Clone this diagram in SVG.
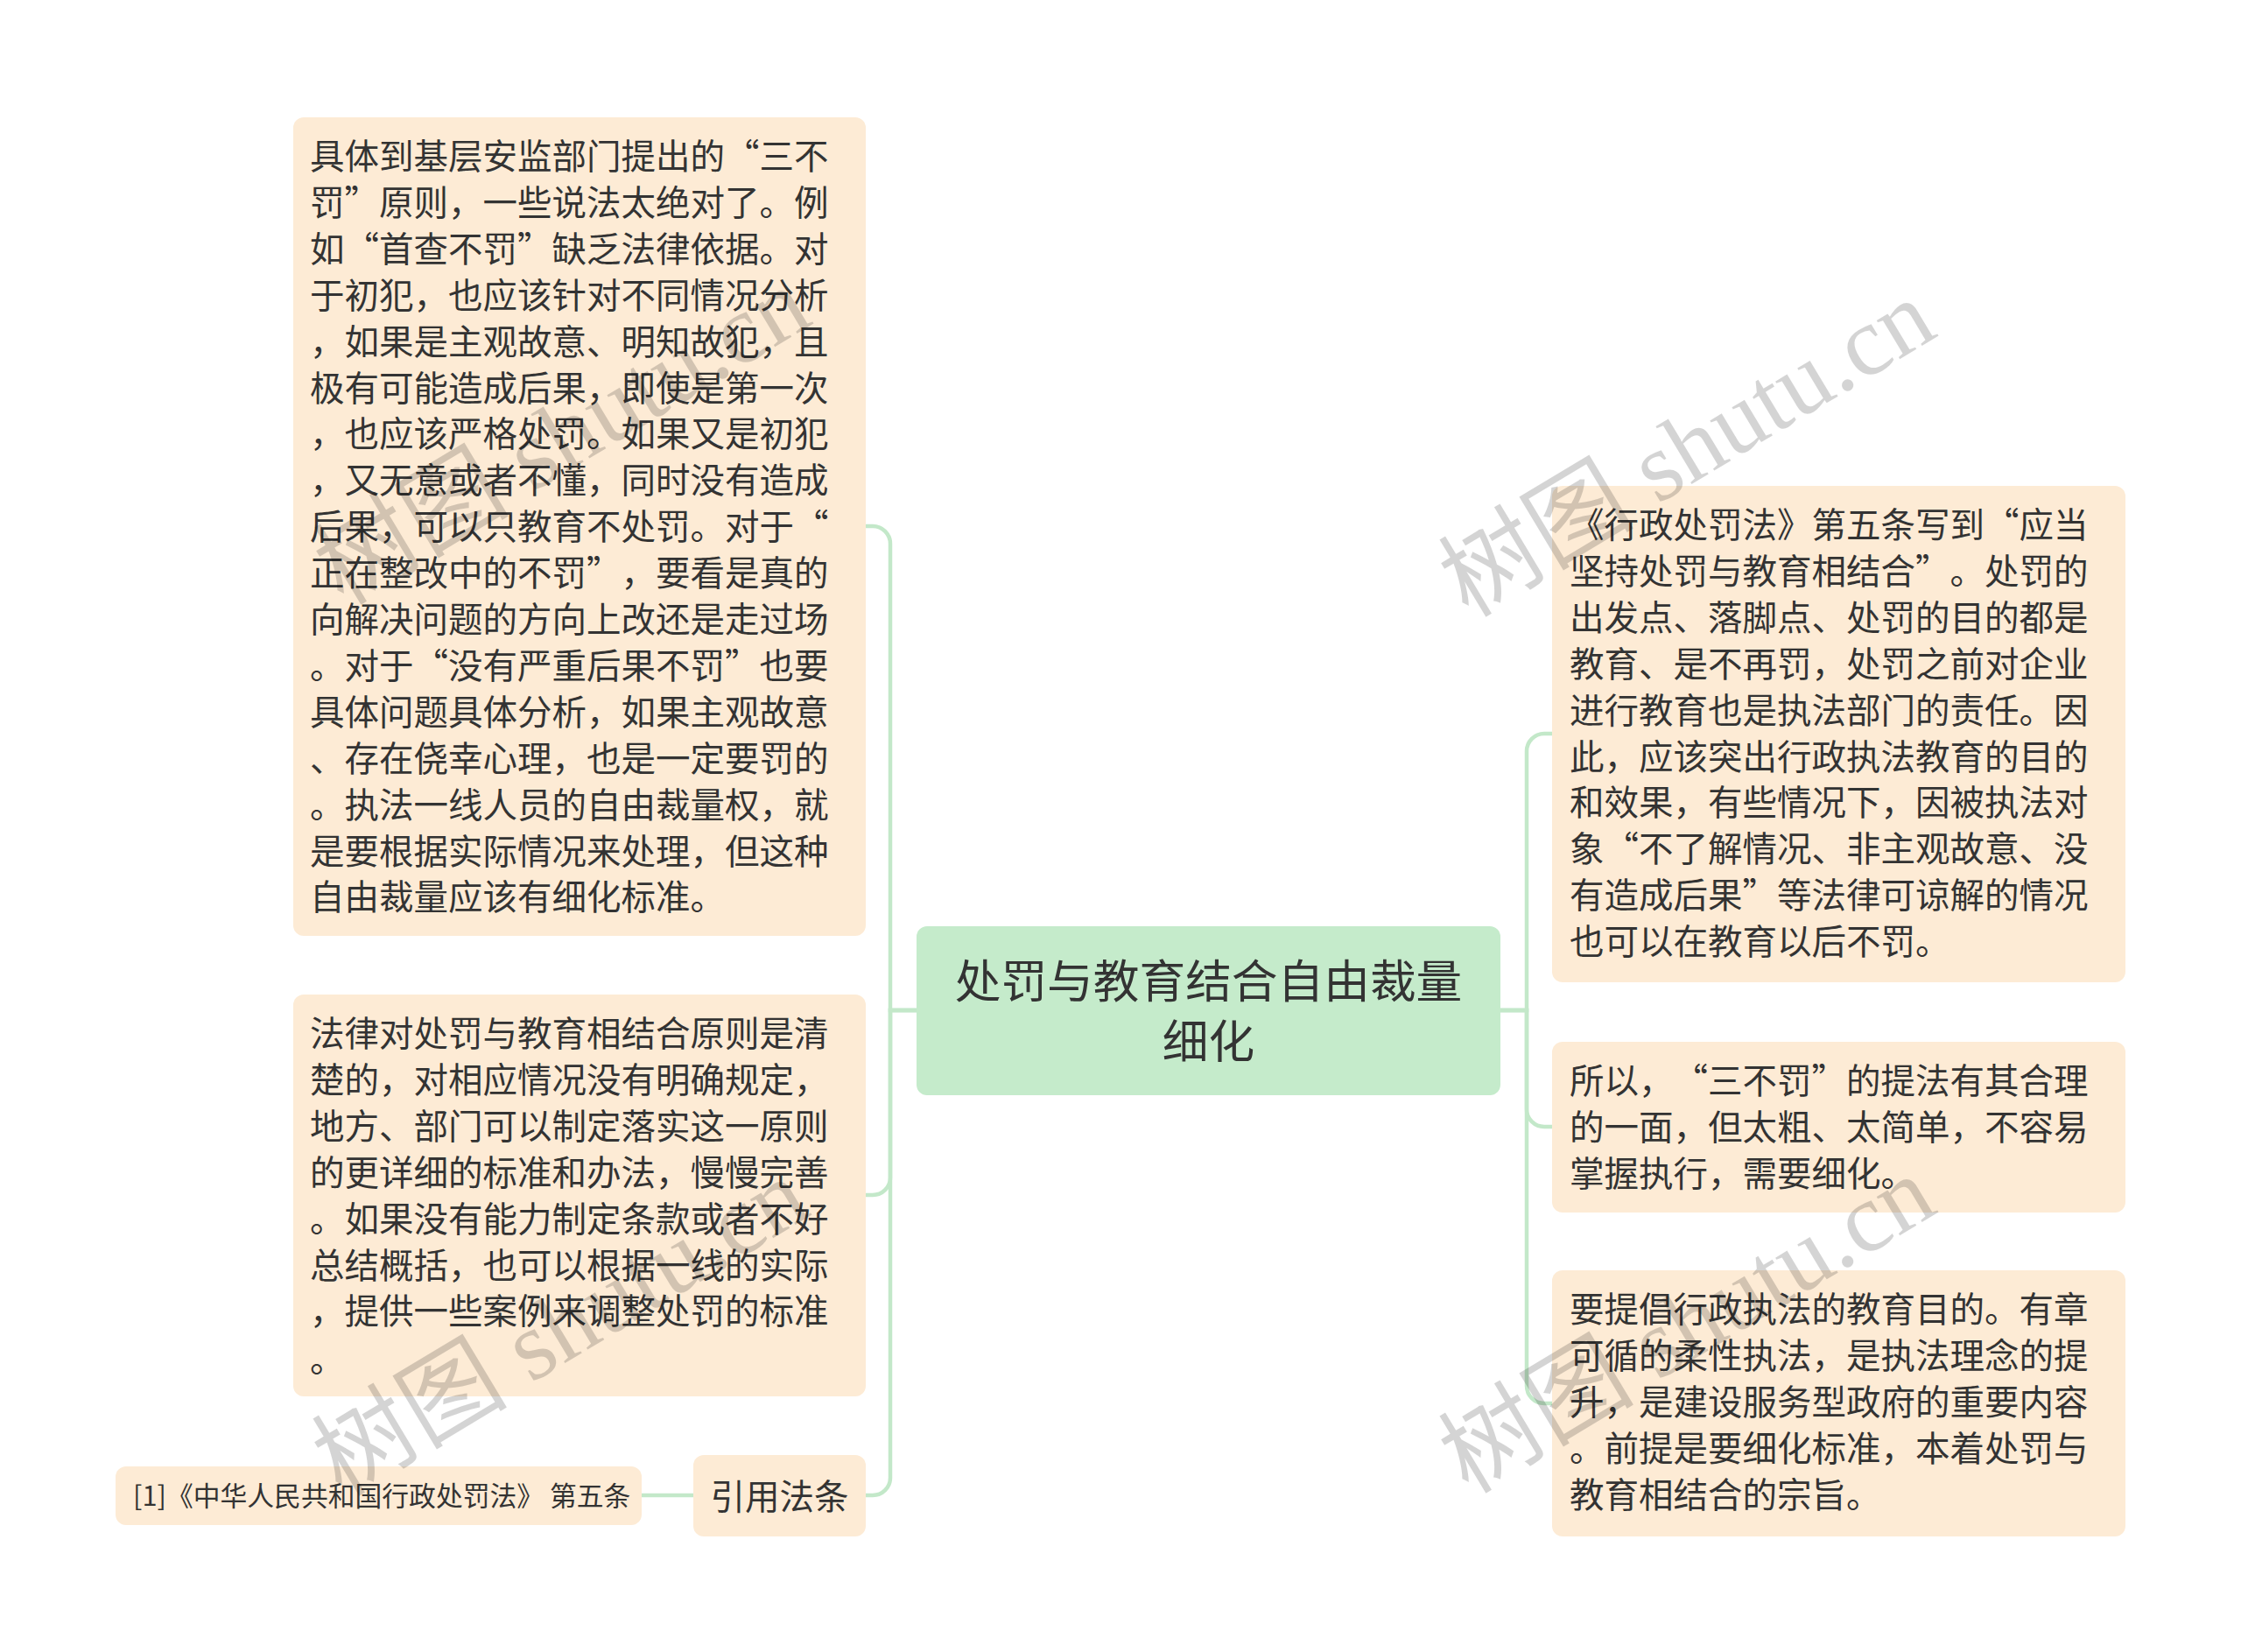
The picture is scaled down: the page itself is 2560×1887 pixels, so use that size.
<svg xmlns="http://www.w3.org/2000/svg" width="2560" height="1887" viewBox="0 0 2560 1887">
<style>
text{text-spacing-trim:space-all;}
.box{fill:#fdebd5;}
.center{fill:#c5ebcb;}
.t{font-family:"Noto Sans CJK SC","Noto Sans",sans-serif;font-size:39.5px;fill:#333333;}
.tc{font-family:"Noto Sans CJK SC","Noto Sans",sans-serif;font-size:52.7px;fill:#333333;text-anchor:middle;}
.ts{font-family:"Noto Sans CJK SC","Noto Sans",sans-serif;font-size:30.8px;fill:#333333;}
.edge{fill:none;stroke:#c3e8c9;stroke-width:4.5;}
.wm{font-family:"Liberation Serif","Noto Sans CJK SC",serif;font-size:112px;fill:#000000;fill-opacity:0.17;text-anchor:middle;}
</style>
<rect width="2560" height="1887" fill="#ffffff"/>
<g id="connectors">
<path class="edge" d="M1047 1154 H1017 V621 A20 20 0 0 0 997 601 H989"/>
<path class="edge" d="M1047 1154 H1017 V1345 A20 20 0 0 1 997 1365 H989"/>
<path class="edge" d="M1047 1154 H1017 V1688 A20 20 0 0 1 997 1708 H989"/>
<path class="edge" d="M1714 1154 H1744 V858 A20 20 0 0 1 1764 838 H1773"/>
<path class="edge" d="M1714 1154 H1744 V1267 A20 20 0 0 0 1764 1287 H1773"/>
<path class="edge" d="M1714 1154 H1744 V1583 A20 20 0 0 0 1764 1603 H1773"/>
<path class="edge" d="M792 1708 H733"/>
</g>
<g id="center">
<rect class="center" x="1047" y="1058" width="667" height="193" rx="12"/>
<text class="tc" x="1380.5" y="1140">处罚与教育结合自由裁量</text>
<text class="tc" x="1380.5" y="1209">细化</text>
</g>
<g id="left1">
<rect class="box" x="335" y="134" width="654" height="935" rx="12"/>
<text class="t" x="354" y="193">具体到基层安监部门提出的“三不</text>
<text class="t" x="354" y="245.9">罚”原则，一些说法太绝对了。例</text>
<text class="t" x="354" y="298.8">如“首查不罚”缺乏法律依据。对</text>
<text class="t" x="354" y="351.7">于初犯，也应该针对不同情况分析</text>
<text class="t" x="354" y="404.6">，如果是主观故意、明知故犯，且</text>
<text class="t" x="354" y="457.5">极有可能造成后果，即使是第一次</text>
<text class="t" x="354" y="510.4">，也应该严格处罚。如果又是初犯</text>
<text class="t" x="354" y="563.3">，又无意或者不懂，同时没有造成</text>
<text class="t" x="354" y="616.2">后果，可以只教育不处罚。对于“</text>
<text class="t" x="354" y="669.1">正在整改中的不罚”，要看是真的</text>
<text class="t" x="354" y="722">向解决问题的方向上改还是走过场</text>
<text class="t" x="354" y="774.9">。对于“没有严重后果不罚”也要</text>
<text class="t" x="354" y="827.8">具体问题具体分析，如果主观故意</text>
<text class="t" x="354" y="880.7">、存在侥幸心理，也是一定要罚的</text>
<text class="t" x="354" y="933.6">。执法一线人员的自由裁量权，就</text>
<text class="t" x="354" y="986.5">是要根据实际情况来处理，但这种</text>
<text class="t" x="354" y="1039.4">自由裁量应该有细化标准。</text>
</g>
<g id="left2">
<rect class="box" x="335" y="1136" width="654" height="459" rx="12"/>
<text class="t" x="354" y="1195">法律对处罚与教育相结合原则是清</text>
<text class="t" x="354" y="1247.9">楚的，对相应情况没有明确规定，</text>
<text class="t" x="354" y="1300.8">地方、部门可以制定落实这一原则</text>
<text class="t" x="354" y="1353.7">的更详细的标准和办法，慢慢完善</text>
<text class="t" x="354" y="1406.6">。如果没有能力制定条款或者不好</text>
<text class="t" x="354" y="1459.5">总结概括，也可以根据一线的实际</text>
<text class="t" x="354" y="1512.4">，提供一些案例来调整处罚的标准</text>
<text class="t" x="354" y="1567">。</text>
</g>
<g id="left3">
<rect class="box" x="792" y="1662" width="197" height="93" rx="12"/>
<text class="t" x="890.5" y="1723.5" text-anchor="middle">引用法条</text>
</g>
<g id="leaf">
<rect class="box" x="132" y="1675" width="601" height="67" rx="12"/>
<text class="ts" x="152" y="1720">[1]《中华人民共和国行政处罚法》 第五条</text>
</g>
<g id="right1">
<rect class="box" x="1773" y="555" width="655" height="567" rx="12"/>
<text class="t" x="1793" y="614">《行政处罚法》第五条写到“应当</text>
<text class="t" x="1793" y="666.9">坚持处罚与教育相结合”。处罚的</text>
<text class="t" x="1793" y="719.8">出发点、落脚点、处罚的目的都是</text>
<text class="t" x="1793" y="772.7">教育、是不再罚，处罚之前对企业</text>
<text class="t" x="1793" y="825.6">进行教育也是执法部门的责任。因</text>
<text class="t" x="1793" y="878.5">此，应该突出行政执法教育的目的</text>
<text class="t" x="1793" y="931.4">和效果，有些情况下，因被执法对</text>
<text class="t" x="1793" y="984.3">象“不了解情况、非主观故意、没</text>
<text class="t" x="1793" y="1037.2">有造成后果”等法律可谅解的情况</text>
<text class="t" x="1793" y="1090.1">也可以在教育以后不罚。</text>
</g>
<g id="right2">
<rect class="box" x="1773" y="1190" width="655" height="195" rx="12"/>
<text class="t" x="1793" y="1249">所以，“三不罚”的提法有其合理</text>
<text class="t" x="1793" y="1301.9">的一面，但太粗、太简单，不容易</text>
<text class="t" x="1793" y="1354.8">掌握执行，需要细化。</text>
</g>
<g id="right3">
<rect class="box" x="1773" y="1451" width="655" height="304" rx="12"/>
<text class="t" x="1793" y="1510">要提倡行政执法的教育目的。有章</text>
<text class="t" x="1793" y="1562.9">可循的柔性执法，是执法理念的提</text>
<text class="t" x="1793" y="1615.8">升，是建设服务型政府的重要内容</text>
<text class="t" x="1793" y="1668.7">。前提是要细化标准，本着处罚与</text>
<text class="t" x="1793" y="1721.6">教育相结合的宗旨。</text>
</g>
<g id="watermarks">
<text class="wm" transform="translate(642 498) rotate(-31)" y="38">树图 shutu.cn</text>
<text class="wm" transform="translate(1927 512) rotate(-31)" y="38">树图 shutu.cn</text>
<text class="wm" transform="translate(640 1516) rotate(-31)" y="38">树图 shutu.cn</text>
<text class="wm" transform="translate(1927 1513) rotate(-31)" y="38">树图 shutu.cn</text>
</g>
</svg>
